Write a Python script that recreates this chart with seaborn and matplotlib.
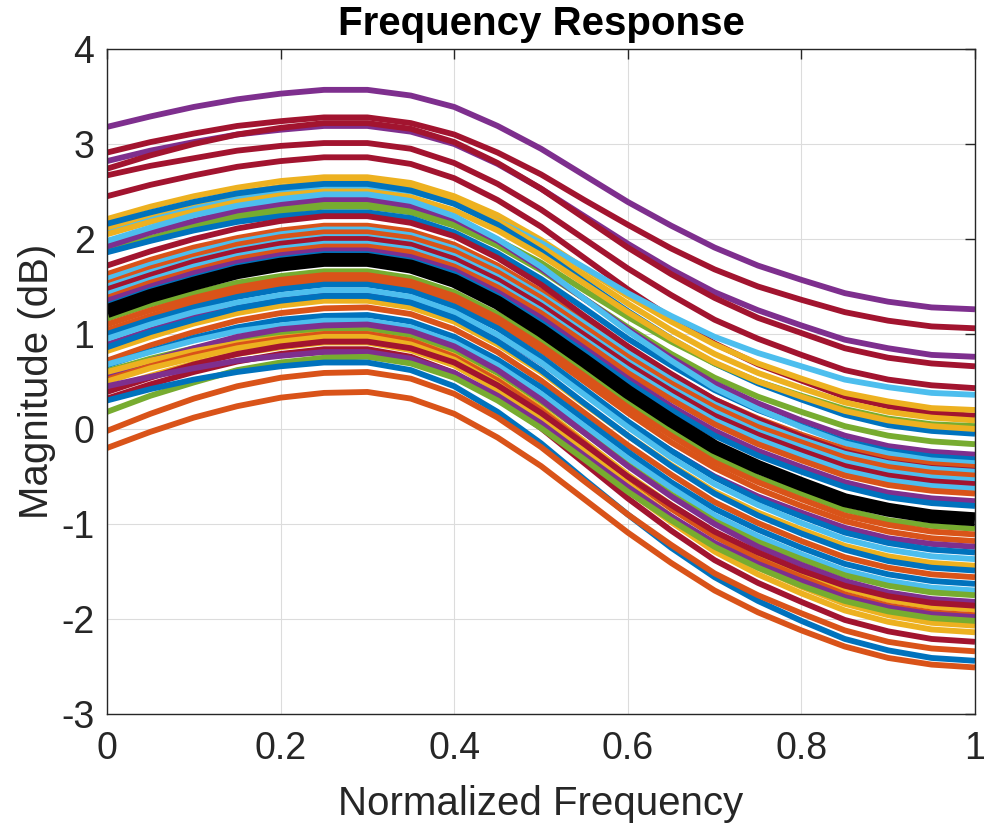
import numpy as np
import pandas as pd
import matplotlib
matplotlib.use("Agg")
import matplotlib.pyplot as plt
import seaborn as sns

# ---------------- data ----------------
freq = [0.00, 0.05, 0.10, 0.15, 0.20, 0.25, 0.30, 0.35, 0.40, 0.45, 0.50,
        0.55, 0.60, 0.65, 0.70, 0.75, 0.80, 0.85, 0.90, 0.95, 1.00]

x_ticks = [0, 0.2, 0.4, 0.6, 0.8, 1]
x_tick_labels = ["0", "0.2", "0.4", "0.6", "0.8", "1"]
y_ticks = [-3, -2, -1, 0, 1, 2, 3, 4]
y_tick_labels = ["-3", "-2", "-1", "0", "1", "2", "3", "4"]

mean_response = [1.24, 1.40, 1.53, 1.65, 1.73, 1.78, 1.78, 1.71, 1.56, 1.33, 1.04,
                 0.72, 0.39, 0.09, -0.19, -0.40, -0.58, -0.75, -0.85, -0.92, -0.95]

response_top = [
    [3.18, 3.29, 3.39, 3.47, 3.53, 3.57, 3.57, 3.51, 3.39, 3.19, 2.95, 2.67, 2.39, 2.14, 1.91, 1.72, 1.57, 1.43, 1.34, 1.28, 1.26],
    [2.91, 3.02, 3.11, 3.19, 3.24, 3.28, 3.28, 3.22, 3.10, 2.91, 2.68, 2.41, 2.15, 1.90, 1.68, 1.50, 1.36, 1.23, 1.14, 1.08, 1.06],
    [2.82, 2.93, 3.02, 3.10, 3.15, 3.19, 3.19, 3.13, 3.00, 2.79, 2.53, 2.24, 1.95, 1.68, 1.44, 1.25, 1.09, 0.94, 0.85, 0.78, 0.76],
    [2.74, 2.88, 3.00, 3.10, 3.17, 3.22, 3.22, 3.16, 3.02, 2.80, 2.53, 2.22, 1.91, 1.63, 1.38, 1.17, 1.01, 0.85, 0.75, 0.69, 0.66],
    [2.67, 2.77, 2.85, 2.93, 2.98, 3.01, 3.01, 2.95, 2.80, 2.58, 2.31, 2.00, 1.69, 1.41, 1.15, 0.95, 0.78, 0.62, 0.52, 0.46, 0.43],
    [2.45, 2.57, 2.67, 2.76, 2.82, 2.86, 2.86, 2.79, 2.64, 2.41, 2.13, 1.80, 1.47, 1.17, 0.90, 0.68, 0.51, 0.34, 0.24, 0.17, 0.14],
]
colors_top = ["P", "R", "P", "R", "R", "R"]

response_upper = [
    [2.21, 2.34, 2.45, 2.54, 2.61, 2.65, 2.65, 2.59, 2.45, 2.25, 1.99, 1.69, 1.40, 1.13, 0.89, 0.69, 0.53, 0.38, 0.29, 0.22, 0.20],
    [2.08, 2.22, 2.33, 2.43, 2.50, 2.55, 2.55, 2.50, 2.38, 2.19, 1.96, 1.70, 1.43, 1.19, 0.97, 0.80, 0.66, 0.52, 0.44, 0.38, 0.36],
    [2.12, 2.26, 2.38, 2.48, 2.55, 2.60, 2.60, 2.54, 2.40, 2.19, 1.92, 1.62, 1.32, 1.04, 0.79, 0.59, 0.43, 0.28, 0.18, 0.12, 0.09],
    [2.16, 2.28, 2.39, 2.48, 2.54, 2.58, 2.58, 2.51, 2.37, 2.15, 1.87, 1.55, 1.24, 0.95, 0.69, 0.48, 0.31, 0.15, 0.04, -0.02, -0.05],
    [1.95, 2.08, 2.18, 2.27, 2.34, 2.38, 2.38, 2.32, 2.19, 1.99, 1.75, 1.46, 1.18, 0.92, 0.69, 0.50, 0.35, 0.21, 0.11, 0.05, 0.03],
    [2.05, 2.18, 2.29, 2.39, 2.46, 2.50, 2.50, 2.44, 2.30, 2.09, 1.83, 1.53, 1.23, 0.95, 0.70, 0.50, 0.34, 0.19, 0.09, 0.03, 0.00],
    [1.88, 2.01, 2.13, 2.23, 2.29, 2.34, 2.34, 2.28, 2.14, 1.93, 1.67, 1.37, 1.07, 0.79, 0.54, 0.34, 0.18, 0.03, -0.07, -0.13, -0.16],
    [1.92, 2.07, 2.19, 2.30, 2.37, 2.42, 2.42, 2.35, 2.21, 1.98, 1.69, 1.37, 1.05, 0.75, 0.48, 0.27, 0.09, -0.07, -0.18, -0.24, -0.27],
    [1.86, 1.98, 2.09, 2.18, 2.24, 2.28, 2.28, 2.22, 2.07, 1.85, 1.58, 1.27, 0.95, 0.67, 0.41, 0.20, 0.03, -0.13, -0.23, -0.29, -0.32],
    [1.98, 2.12, 2.25, 2.35, 2.42, 2.47, 2.47, 2.40, 2.24, 2.00, 1.71, 1.37, 1.03, 0.72, 0.43, 0.21, 0.02, -0.15, -0.26, -0.33, -0.36],
    [1.63, 1.78, 1.91, 2.01, 2.09, 2.14, 2.14, 2.08, 1.94, 1.72, 1.45, 1.15, 0.85, 0.57, 0.31, 0.11, -0.06, -0.21, -0.31, -0.37, -0.40],
    [1.72, 1.87, 2.00, 2.11, 2.19, 2.24, 2.24, 2.17, 2.03, 1.80, 1.52, 1.19, 0.87, 0.58, 0.31, 0.10, -0.08, -0.24, -0.35, -0.41, -0.44],
    [1.58, 1.73, 1.86, 1.97, 2.05, 2.10, 2.10, 2.04, 1.90, 1.68, 1.41, 1.11, 0.80, 0.52, 0.26, 0.06, -0.11, -0.26, -0.36, -0.42, -0.45],
    [1.53, 1.69, 1.82, 1.94, 2.02, 2.07, 2.07, 2.01, 1.87, 1.65, 1.38, 1.07, 0.76, 0.48, 0.23, 0.02, -0.14, -0.30, -0.40, -0.46, -0.49],
    [1.50, 1.65, 1.78, 1.89, 1.97, 2.02, 2.02, 1.96, 1.82, 1.60, 1.33, 1.02, 0.71, 0.43, 0.18, -0.03, -0.19, -0.35, -0.45, -0.51, -0.54],
    [1.47, 1.62, 1.76, 1.87, 1.95, 2.00, 2.00, 1.94, 1.79, 1.57, 1.30, 0.99, 0.68, 0.40, 0.14, -0.06, -0.23, -0.39, -0.49, -0.55, -0.58],
    [1.42, 1.57, 1.71, 1.82, 1.90, 1.95, 1.95, 1.89, 1.74, 1.52, 1.25, 0.94, 0.63, 0.35, 0.09, -0.11, -0.28, -0.44, -0.54, -0.60, -0.63],
    [1.38, 1.54, 1.67, 1.79, 1.87, 1.92, 1.92, 1.86, 1.71, 1.49, 1.22, 0.91, 0.59, 0.31, 0.05, -0.16, -0.33, -0.49, -0.59, -0.65, -0.68],
    [1.35, 1.50, 1.64, 1.75, 1.83, 1.88, 1.88, 1.81, 1.67, 1.44, 1.17, 0.85, 0.53, 0.24, -0.02, -0.23, -0.40, -0.56, -0.67, -0.73, -0.76],
    [1.30, 1.46, 1.59, 1.71, 1.79, 1.84, 1.84, 1.77, 1.63, 1.40, 1.12, 0.81, 0.49, 0.20, -0.07, -0.28, -0.45, -0.61, -0.72, -0.78, -0.81],
]
colors_upper = ["Y", "C", "Y", "B", "G", "Y", "G", "P", "B", "C",
                "O", "R", "C", "O", "C", "R", "C", "O", "P", "B"]

response_lower = [
    [1.16, 1.31, 1.43, 1.54, 1.61, 1.66, 1.66, 1.59, 1.44, 1.21, 0.93, 0.60, 0.28, -0.02, -0.29, -0.51, -0.68, -0.85, -0.96, -1.02, -1.05],
    [1.10, 1.25, 1.38, 1.49, 1.57, 1.62, 1.62, 1.55, 1.40, 1.17, 0.88, 0.56, 0.23, -0.07, -0.35, -0.56, -0.74, -0.91, -1.01, -1.08, -1.11],
    [1.04, 1.19, 1.33, 1.44, 1.52, 1.57, 1.57, 1.50, 1.35, 1.12, 0.83, 0.50, 0.17, -0.14, -0.41, -0.63, -0.81, -0.97, -1.08, -1.15, -1.18],
    [0.89, 1.04, 1.18, 1.29, 1.37, 1.42, 1.42, 1.35, 1.21, 0.98, 0.70, 0.38, 0.06, -0.23, -0.50, -0.71, -0.88, -1.04, -1.15, -1.21, -1.24],
    [1.00, 1.15, 1.28, 1.39, 1.47, 1.52, 1.52, 1.45, 1.29, 1.06, 0.76, 0.42, 0.08, -0.23, -0.51, -0.74, -0.92, -1.09, -1.20, -1.27, -1.30],
    [0.95, 1.10, 1.23, 1.33, 1.41, 1.46, 1.46, 1.39, 1.23, 0.99, 0.70, 0.36, 0.02, -0.30, -0.58, -0.80, -0.99, -1.16, -1.27, -1.34, -1.37],
    [0.82, 0.97, 1.11, 1.22, 1.30, 1.35, 1.35, 1.28, 1.13, 0.89, 0.60, 0.26, -0.07, -0.38, -0.66, -0.88, -1.06, -1.23, -1.34, -1.41, -1.44],
    [0.86, 1.02, 1.15, 1.27, 1.35, 1.40, 1.40, 1.33, 1.17, 0.92, 0.62, 0.27, -0.07, -0.39, -0.68, -0.91, -1.10, -1.27, -1.39, -1.46, -1.49],
    [0.72, 0.88, 1.02, 1.14, 1.22, 1.27, 1.28, 1.21, 1.05, 0.81, 0.51, 0.17, -0.17, -0.48, -0.77, -0.99, -1.18, -1.35, -1.46, -1.53, -1.56],
    [0.67, 0.82, 0.96, 1.07, 1.15, 1.19, 1.20, 1.13, 0.97, 0.73, 0.44, 0.10, -0.24, -0.56, -0.84, -1.06, -1.25, -1.42, -1.53, -1.60, -1.63],
    [0.68, 0.81, 0.93, 1.03, 1.09, 1.14, 1.14, 1.07, 0.91, 0.67, 0.37, 0.03, -0.31, -0.62, -0.91, -1.13, -1.32, -1.49, -1.60, -1.67, -1.70],
    [0.61, 0.74, 0.85, 0.94, 1.01, 1.05, 1.05, 0.98, 0.83, 0.59, 0.29, -0.04, -0.38, -0.69, -0.97, -1.19, -1.37, -1.54, -1.65, -1.72, -1.75],
    [0.56, 0.72, 0.85, 0.97, 1.05, 1.09, 1.10, 1.03, 0.87, 0.62, 0.31, -0.04, -0.39, -0.71, -1.00, -1.24, -1.43, -1.60, -1.72, -1.79, -1.82],
    [0.60, 0.72, 0.82, 0.90, 0.96, 1.00, 1.00, 0.93, 0.77, 0.52, 0.22, -0.13, -0.48, -0.80, -1.09, -1.32, -1.51, -1.68, -1.80, -1.87, -1.90],
    [0.52, 0.66, 0.78, 0.88, 0.95, 1.00, 1.00, 0.93, 0.76, 0.51, 0.20, -0.15, -0.51, -0.84, -1.13, -1.37, -1.56, -1.74, -1.86, -1.93, -1.96],
    [0.50, 0.64, 0.75, 0.85, 0.92, 0.97, 0.97, 0.89, 0.73, 0.47, 0.15, -0.22, -0.58, -0.92, -1.22, -1.46, -1.66, -1.84, -1.96, -2.04, -2.07],
    [0.42, 0.56, 0.69, 0.79, 0.86, 0.91, 0.91, 0.83, 0.67, 0.41, 0.09, -0.28, -0.65, -0.98, -1.29, -1.53, -1.73, -1.91, -2.03, -2.11, -2.14],
    [0.32, 0.47, 0.60, 0.71, 0.79, 0.84, 0.84, 0.76, 0.59, 0.33, 0.01, -0.36, -0.73, -1.07, -1.38, -1.62, -1.82, -2.01, -2.13, -2.21, -2.24],
    [0.39, 0.54, 0.68, 0.79, 0.87, 0.92, 0.92, 0.85, 0.70, 0.46, 0.17, -0.16, -0.50, -0.80, -1.08, -1.30, -1.49, -1.65, -1.76, -1.83, -1.86],
    [0.45, 0.55, 0.64, 0.72, 0.77, 0.81, 0.81, 0.74, 0.59, 0.35, 0.06, -0.28, -0.61, -0.92, -1.20, -1.42, -1.60, -1.77, -1.88, -1.95, -1.98],
    [0.18, 0.35, 0.49, 0.62, 0.70, 0.75, 0.76, 0.69, 0.54, 0.30, 0.01, -0.32, -0.66, -0.96, -1.24, -1.46, -1.65, -1.81, -1.92, -1.99, -2.02],
    [0.30, 0.42, 0.52, 0.60, 0.66, 0.70, 0.70, 0.62, 0.45, 0.18, -0.15, -0.53, -0.90, -1.25, -1.56, -1.81, -2.02, -2.21, -2.33, -2.41, -2.44],
    [-0.02, 0.16, 0.32, 0.45, 0.54, 0.59, 0.60, 0.53, 0.37, 0.12, -0.19, -0.55, -0.90, -1.22, -1.52, -1.75, -1.94, -2.12, -2.24, -2.31, -2.34],
    [-0.20, -0.03, 0.12, 0.24, 0.33, 0.38, 0.39, 0.32, 0.16, -0.09, -0.39, -0.74, -1.09, -1.41, -1.70, -1.93, -2.12, -2.29, -2.41, -2.48, -2.51],
]
colors_lower = ["G", "O", "O", "P", "B", "C", "Y", "B", "O", "B", "C", "G",
                "P", "Y", "O", "Y", "Y", "R", "R", "P", "G", "B", "O", "O"]

# MATLAB default colour order
color_map = {"B": "#0072BD", "O": "#D95319", "Y": "#EDB120", "P": "#7E2F8E",
             "G": "#77AC30", "C": "#4DBEEE", "R": "#A2142F"}

# ---------------- build long table ----------------
all_curves = response_top + response_upper + response_lower
all_codes = colors_top + colors_upper + colors_lower
rows = []
for i, vals in enumerate(all_curves):
    for f, v in zip(freq, vals):
        rows.append({"freq": f, "mag": v, "curve": i})
df = pd.DataFrame(rows)
palette = [color_map[c] for c in all_codes]
df_mean = pd.DataFrame({"freq": freq, "mag": mean_response})

# ---------------- plot ----------------
sns.set_theme(style="white")
plt.rcParams["font.family"] = ["Liberation Sans", "DejaVu Sans"]

fig = plt.figure(figsize=(9.84, 8.32), dpi=100)
ax = fig.add_axes([107 / 984, 1 - 714 / 832, 868 / 984, 665 / 832])

sns.lineplot(data=df, x="freq", y="mag", hue="curve", palette=palette,
             legend=False, linewidth=4.2, estimator=None, sort=False, ax=ax,
             solid_capstyle="butt", solid_joinstyle="round")
sns.lineplot(data=df_mean, x="freq", y="mag", color="black", linewidth=10,
             estimator=None, sort=False, ax=ax, solid_capstyle="butt",
             solid_joinstyle="round")

ax.set_xlim(0, 1)
ax.set_ylim(-3, 4)
ax.set_xticks(x_ticks)
ax.set_xticklabels(x_tick_labels)
ax.set_yticks(y_ticks)
ax.set_yticklabels(y_tick_labels)

ax.grid(True, color="#dcdcdc", linewidth=0.8)
ax.set_axisbelow(True)
for s in ax.spines.values():
    s.set_color("#262626")
    s.set_linewidth(1.0)
    s.set_visible(True)

ax.tick_params(axis="both", which="both", direction="in", length=7,
               width=1.0, color="#262626", labelcolor="#262626",
               labelsize=27, top=True, right=True)
ax.tick_params(axis="x", pad=12)
ax.tick_params(axis="y", pad=9)

ax.set_xlabel("Normalized Frequency", fontsize=29, color="#262626", labelpad=13)
ax.set_ylabel("Magnitude (dB)", fontsize=29, color="#262626", labelpad=4)
ax.set_title("Frequency Response", fontsize=29, fontweight="bold",
             color="black", pad=10)

fig.savefig("out.png", dpi=100)
